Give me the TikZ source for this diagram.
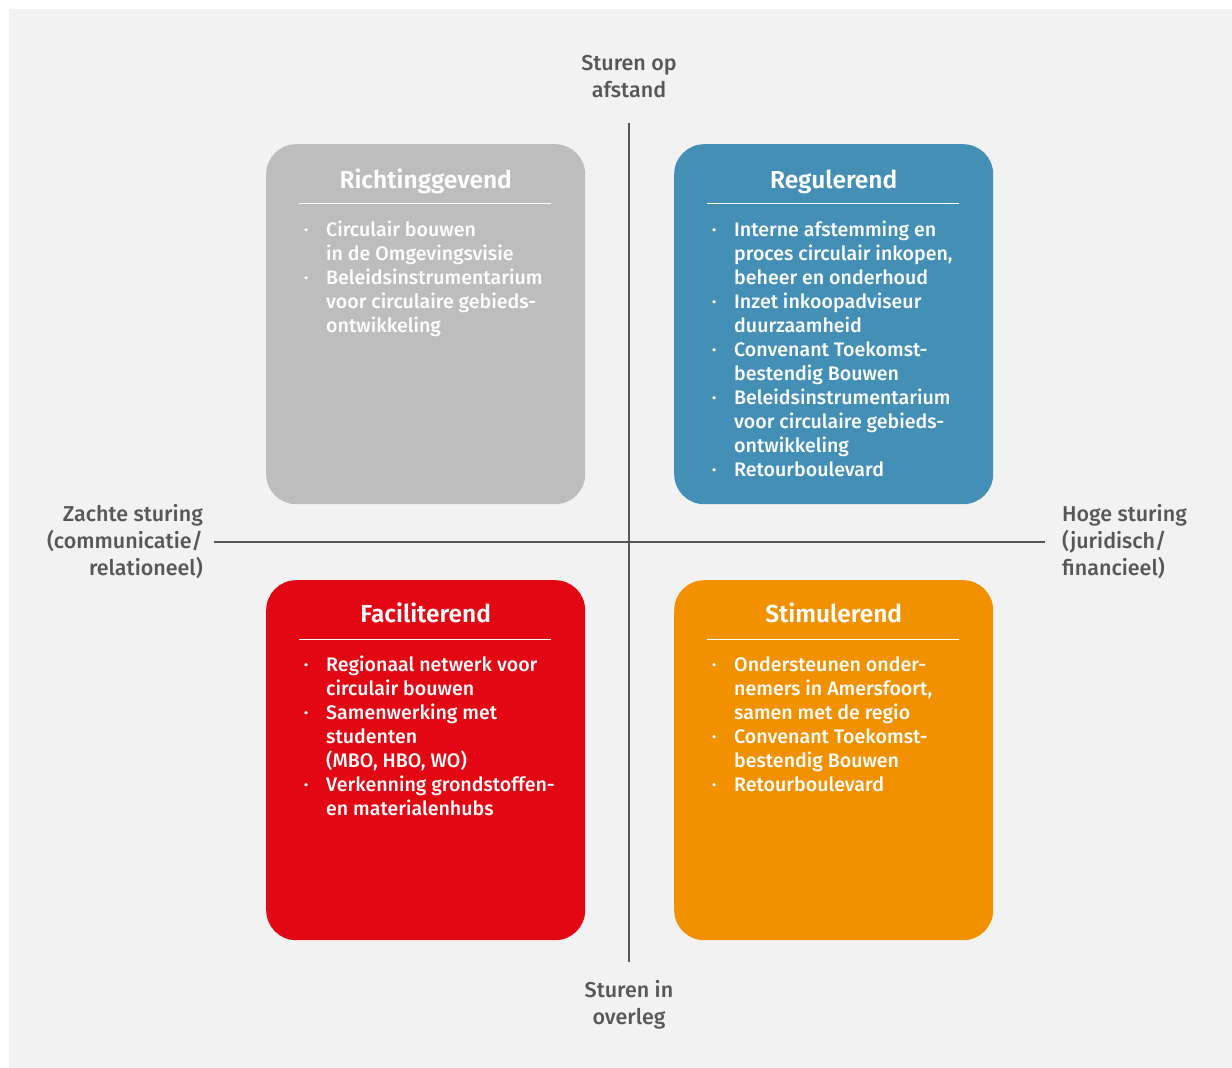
\documentclass[tikz,border=0pt]{standalone}
\usepackage{fontspec}
\setmainfont{Fira Sans}[UprightFont=* Medium, BoldFont=* SemiBold]

\definecolor{bggray}{HTML}{F2F2F2}
\definecolor{axisgray}{HTML}{575756}
\definecolor{boxgray}{HTML}{BDBDBD}
\definecolor{boxblue}{HTML}{438FB6}
\definecolor{boxred}{HTML}{E30613}
\definecolor{boxorange}{HTML}{F29100}

\newcommand{\stack}[2]{\begin{tabular}[t]{@{}#1@{}}#2\end{tabular}}
\newcommand{\itm}{\raisebox{1.5pt}{\fontsize{12.5}{12}\selectfont\textbullet}}

\tikzset{
	quadrant/.style={rounded corners=30pt, minimum width=319pt, minimum height=360pt,
		inner sep=0pt, anchor=north west},
	quadtitle/.style={text=white, font=\fontsize{24.5}{28}\selectfont\bfseries, anchor=base},
	quadlist/.style={text=white, font=\fontsize{19.6}{24}\selectfont, anchor=base west, inner sep=0pt},
	quadrule/.style={draw=white, line width=1pt},
	axislabel/.style={text=axisgray, font=\fontsize{21.5}{27}\selectfont, inner sep=0pt},
	axis/.style={draw=axisgray, line width=1.3pt}
}

\begin{document}
\begin{tikzpicture}[x=1pt,y=-1pt]
	\fill[white] (0,0) rectangle (1232,1068);
	\fill[bggray] (9,9) rectangle (1232,1068);
	\useasboundingbox (0,0) rectangle (1232,1068);

	% axes
	\coordinate (vtop) at (629,123);
	\coordinate (vbot) at (629,962);
	\coordinate (hleft) at (214,542);
	\coordinate (hright) at (1045,542);
	\draw[axis] (vtop) -- (vbot);
	\draw[axis] (hleft) -- (hright);

	\node[axislabel, anchor=base] (afstand) at (629,70) {\stack{c}{Sturen op\\afstand}};
	\node[axislabel, anchor=base] (overleg) at (629,997) {\stack{c}{Sturen in\\overleg}};
	\node[axislabel, anchor=base east] (zacht) at (203,521) {\stack{r}{Zachte sturing\\(communicatie/\\relationeel)}};
	\node[axislabel, anchor=base west] (hoog) at (1062,521) {\stack{l}{Hoge sturing\\(juridisch/\\financieel)}};

	% quadrants
	\node[quadrant, fill=boxgray] (richting) at (266,144) {};
	\node[quadrant, fill=boxblue] (regul) at (674,144) {};
	\node[quadrant, fill=boxred] (facil) at (266,580) {};
	\node[quadrant, fill=boxorange] (stimul) at (674,580) {};

	\foreach \q/\t/\dy in {richting/Richtinggevend/44, regul/Regulerend/44, facil/Faciliterend/42, stimul/Stimulerend/42} {
		\node[quadtitle] (\q-title) at ([yshift=-\dy pt]\q.north) {\t};
		\draw[quadrule] ([xshift=33pt, yshift=-59pt]\q.north west) -- ([xshift=-34pt, yshift=-59pt]\q.north east);
	}

	\node[quadlist] (richting-list) at ([xshift=38pt, yshift=-92pt]richting.north west) {\stack{p{22pt}@{}l}{
		\itm & Circulair bouwen\\
		& in de Omgevingsvisie\\
		\itm & Beleidsinstrumentarium\\
		& voor circulaire gebieds-\\
		& ontwikkeling}};
	\node[quadlist] (regul-list) at ([xshift=38pt, yshift=-92pt]regul.north west) {\stack{p{22pt}@{}l}{
		\itm & Interne afstemming en\\
		& proces circulair inkopen,\\
		& beheer en onderhoud\\
		\itm & Inzet inkoopadviseur\\
		& duurzaamheid\\
		\itm & Convenant Toekomst-\\
		& bestendig Bouwen\\
		\itm & Beleidsinstrumentarium\\
		& voor circulaire gebieds-\\
		& ontwikkeling\\
		\itm & Retourboulevard}};
	\node[quadlist] (facil-list) at ([xshift=38pt, yshift=-91pt]facil.north west) {\stack{p{22pt}@{}l}{
		\itm & Regionaal netwerk voor\\
		& circulair bouwen\\
		\itm & Samenwerking met\\
		& studenten\\
		& (MBO, HBO, WO)\\
		\itm & Verkenning grondstoffen-\\
		& en materialenhubs}};
	\node[quadlist] (stimul-list) at ([xshift=38pt, yshift=-91pt]stimul.north west) {\stack{p{22pt}@{}l}{
		\itm & Ondersteunen onder-\\
		& nemers in Amersfoort,\\
		& samen met de regio\\
		\itm & Convenant Toekomst-\\
		& bestendig Bouwen\\
		\itm & Retourboulevard}};
\end{tikzpicture}
\end{document}
